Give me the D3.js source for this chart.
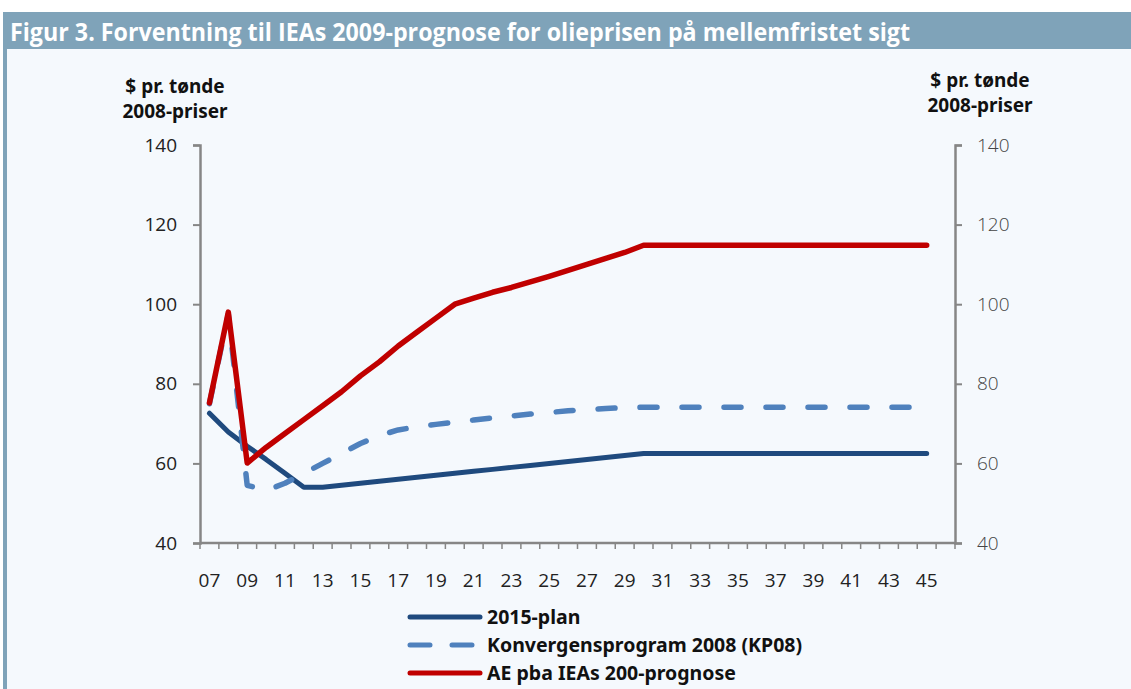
<!DOCTYPE html>
<html>
<head>
<meta charset="utf-8">
<script src="https://cdn.jsdelivr.net/npm/d3@7"></script>
<style>
  body { margin: 0; background: #ffffff; }
  svg { display: block; }
</style>
</head>
<body>
<svg id="chart"></svg>
<script>
// years 2007..2046 (last slot empty, as in the original)
let years = d3.range(2007, 2047);
let tickYears = d3.range(2007, 2046, 2);
let yTicks = [40, 60, 80, 100, 120, 140];

let plan2015 = [72.6, 67.9, 64.3, 61, 57.5, 54, 54, 54.5, 55, 55.5, 56, 56.5, 57, 57.5, 58, 58.5,
    59, 59.5, 60, 60.5, 61, 61.5, 62, 62.5, 62.5, 62.5, 62.5, 62.5, 62.5, 62.5, 62.5, 62.5,
    62.5, 62.5, 62.5, 62.5, 62.5, 62.5, 62.5];
let kp08 = [75, 97.5, 54.5, 53.2, 55, 57.5, 60, 62.5, 65, 67, 68.4, 69.2, 69.8, 70.4, 70.9, 71.4,
    71.9, 72.4, 72.8, 73.2, 73.5, 73.8, 74, 74.1, 74.1, 74.1, 74.1, 74.1, 74.1, 74.1, 74.1, 74.1,
    74.1, 74.1, 74.1, 74.1, 74.1, 74.1, 74.1];
let aeIEA = [75.2, 98, 60.1, 64, 67.5, 71, 74.5, 78, 82, 85.5, 89.5, 93, 96.5, 100, 101.5, 103,
    104.2, 105.6, 107, 108.5, 110, 111.5, 113, 114.8, 114.8, 114.8, 114.8, 114.8, 114.8, 114.8,
    114.8, 114.8, 114.8, 114.8, 114.8, 114.8, 114.8, 114.8, 114.8];

let seriesNames = ["2015-plan", "Konvergensprogram 2008 (KP08)", "AE pba IEAs 200-prognose"];

let W = 1131, H = 689;
let margin = {top: 145, right: 176, bottom: 146, left: 200};
let width = W - margin.left - margin.right;
let height = H - margin.top - margin.bottom;

let svg = d3.select("#chart").attr("width", W).attr("height", H);

// background + header
svg.append("rect").attr("x", 3).attr("y", 12).attr("width", W - 3).attr("height", H - 12)
    .attr("fill", "#f5f9fd");
svg.append("rect").attr("x", 3).attr("y", 12).attr("width", W - 3).attr("height", 37)
    .attr("fill", "#7fa3b9");
svg.append("rect").attr("x", 3).attr("y", 49).attr("width", 4).attr("height", H - 49)
    .attr("fill", "#7fa3b9");
svg.append("text")
    .attr("x", 10).attr("y", 41)
    .attr("fill", "#ffffff")
    .style("font-family", "'Open Sans', sans-serif")
    .style("font-weight", "bold")
    .style("font-size", "25px")
    .attr("textLength", 900)
    .attr("lengthAdjust", "spacingAndGlyphs")
    .text("Figur 3. Forventning til IEAs 2009-prognose for olieprisen på mellemfristet sigt");

let g = svg.append("g")
    .attr("transform", "translate(" + margin.left + "," + margin.top + ")");

let x = d3.scaleBand().domain(years).range([0, width]).padding(0);
let y = d3.scaleLinear().domain([40, 140]).range([height, 0]);
let xc = function (i) { return x(years[i]) + x.bandwidth() / 2; };

let axisColor = "#868686";
let tickFont = "'Open Sans', sans-serif";

// left axis
let yLeft = g.append("g").call(d3.axisLeft(y).tickValues(yTicks).tickSize(7).tickPadding(16));
// right axis
let yRight = g.append("g").attr("transform", "translate(" + width + ",0)")
    .call(d3.axisRight(y).tickValues(yTicks).tickSize(7).tickPadding(15));
[yLeft, yRight].forEach(function (a) {
    a.select(".domain").attr("stroke", axisColor).attr("stroke-width", 2.5);
    a.selectAll(".tick line").attr("stroke", axisColor).attr("stroke-width", 2);
});
yLeft.selectAll(".tick text").attr("fill", "#222")
    .style("font-family", tickFont).style("font-size", "19px");
yRight.selectAll(".tick text").attr("fill", "#444")
    .style("font-family", tickFont).style("font-size", "19px").style("font-weight", "300");

// bottom axis: ticks at category boundaries, labels every other year
let xAxisG = g.append("g").attr("transform", "translate(0," + height + ")");
xAxisG.append("line").attr("x1", 0).attr("x2", width).attr("y1", 0).attr("y2", 0)
    .attr("stroke", axisColor).attr("stroke-width", 2.5);
xAxisG.selectAll(".xt").data(years.concat([2047])).enter().append("line")
    .attr("x1", function (d) { return d === 2047 ? width : x(d); })
    .attr("x2", function (d) { return d === 2047 ? width : x(d); })
    .attr("y1", 0).attr("y2", 6)
    .attr("stroke", axisColor).attr("stroke-width", 1.5);
xAxisG.selectAll(".xl").data(tickYears).enter().append("text")
    .attr("x", function (d) { return x(d) + x.bandwidth() / 2; })
    .attr("y", 44)
    .attr("text-anchor", "middle")
    .attr("fill", "#222")
    .style("font-family", tickFont).style("font-size", "19px")
    .text(function (d) { return String(d).slice(2); });

// axis titles
function axisTitle(cx, y1, y2) {
    let t = svg.append("text").attr("text-anchor", "middle").attr("fill", "#111")
        .style("font-family", "'Noto Sans', sans-serif").style("font-weight", "bold")
        .style("font-size", "19px");
    t.append("tspan").attr("x", cx).attr("y", y1).text("$ pr. tønde");
    t.append("tspan").attr("x", cx).attr("y", y2).text("2008-priser");
}
axisTitle(175, 93, 118);
axisTitle(980, 87, 112);

// lines
let line = d3.line()
    .x(function (d, i) { return xc(i); })
    .y(function (d) { return y(d); });

let styles = [
    {data: plan2015, color: "#1f4a7e", width: 5, dash: null},
    {data: kp08, color: "#4f81bd", width: 5.5, dash: "17,25"},
    {data: aeIEA, color: "#c00000", width: 5.5, dash: null}
];

styles.forEach(function (s) {
    g.append("path")
        .datum(s.data)
        .attr("fill", "none")
        .attr("stroke", s.color)
        .attr("stroke-width", s.width)
        .attr("stroke-linecap", "round")
        .attr("stroke-linejoin", "round")
        .attr("stroke-dasharray", s.dash)
        .attr("d", line);
});

// legend
let legend = svg.append("g").attr("transform", "translate(410,617)");
styles.forEach(function (s, i) {
    let row = legend.append("g").attr("transform", "translate(0," + (i * 28) + ")");
    row.append("line").attr("x1", 0).attr("x2", 70).attr("y1", 0).attr("y2", 0)
        .attr("stroke", s.color).attr("stroke-width", 5)
        .attr("stroke-linecap", "round")
        .attr("stroke-dasharray", s.dash ? "20,22" : null);
    row.append("text").attr("x", 77).attr("y", 7)
        .attr("fill", "#111")
        .style("font-family", "'Noto Sans', sans-serif").style("font-weight", "bold")
        .style("font-size", "19.5px")
        .text(seriesNames[i]);
});
</script>
</body>
</html>
